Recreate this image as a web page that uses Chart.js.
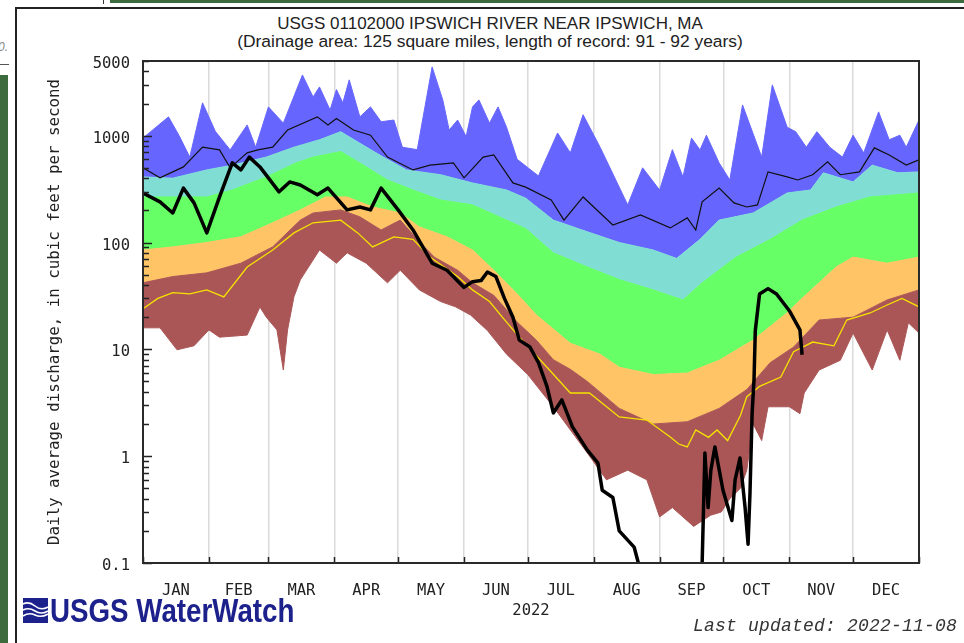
<!DOCTYPE html>
<html>
<head>
<meta charset="utf-8">
<script src="https://cdn.jsdelivr.net/npm/chart.js@4.4.1/dist/chart.umd.min.js"></script>
<style>
	html, body { margin: 0; padding: 0; background: #fff; }
	#page { position: relative; width: 964px; height: 643px; overflow: hidden; }
	.abs { position: absolute; }
	#chart { position: absolute; left: 0; top: 0; }
	.title { left: 0; width: 980px; text-align: center; font-family: "Liberation Sans", Arial, sans-serif; font-size: 17px; line-height: 17px; color: #222; white-space: nowrap; }
	#logo { left: 50px; top: 594px; font-family: "Liberation Sans", Arial, sans-serif; font-weight: bold; font-size: 33px; line-height: 33px; color: #1c218c; transform: scaleX(0.84); transform-origin: 0 0; white-space: nowrap; }
	#updated { left: 693px; top: 617px; font-family: "Liberation Mono", "DejaVu Sans Mono", monospace; font-style: italic; font-size: 18px; line-height: 18px; color: #333; letter-spacing: 0.2px; white-space: nowrap; }
</style>
</head>
<body>
<div id="page">
	<!-- page frame around the graph -->
	<div class="abs" style="left:110px;top:0;width:854px;height:3px;background:#3d6b3d"></div>
	<div class="abs" style="left:103px;top:0;width:1px;height:4px;background:#333"></div>
	<div class="abs" style="left:15px;top:7px;width:949px;height:2px;background:#222"></div>
	<div class="abs" style="left:15px;top:7px;width:2px;height:636px;background:#222"></div>
	<div class="abs" style="left:0;top:75px;width:8px;height:568px;background:#3d6b3d"></div>
	<div class="abs" style="left:0;top:64px;width:9px;height:1px;background:#555"></div>
	<div class="abs" style="left:-2px;top:40px;font:italic 12px 'Liberation Sans',Arial,sans-serif;color:#888">0.</div>

	<div class="abs title" style="top:15px">USGS 01102000 IPSWICH RIVER NEAR IPSWICH, MA</div>
	<div class="abs title" style="top:33px;font-size:17.4px">(Drainage area: 125 square miles, length of record: 91 - 92 years)</div>

	<canvas id="chart" width="964" height="643"></canvas>

	<svg class="abs" style="left:23px;top:598px" width="25" height="25" viewBox="0 0 25 25">
		<rect width="25" height="25" fill="#1c218c"/>
		<path d="M0 6 Q6 3 12 8 T25 9 M0 12 Q6 9 12 13 T25 13 M0 18 Q6 14 12 17 T25 16" stroke="#fff" stroke-width="1.6" fill="none"/>
	</svg>
	<div id="logo" class="abs">USGS WaterWatch</div>
	<div id="updated" class="abs">Last updated: 2022-11-08</div>
</div>

<script>
// x axis: day of year (0 = Jan 1)
const monthStarts = [0, 31, 59, 90, 120, 151, 181, 212, 243, 273, 304, 334, 365];
const monthLabels = ['JAN', 'FEB', 'MAR', 'APR', 'MAY', 'JUN', 'JUL', 'AUG', 'SEP', 'OCT', 'NOV', 'DEC'];
const yearLabel = '2022';

const yTickValues = [0.1, 1, 10, 100, 1000, 5000];
const yTickLabels = ['0.1', '1', '10', '100', '1000', '5000'];

// Daily discharge statistics (cfs)
const maxDays = [0, 5, 12, 17, 22, 28, 34, 41, 49, 53, 59, 66, 75, 80, 83, 88, 91, 94, 97, 102, 107, 112, 118, 122, 129, 136, 141, 144, 148, 152, 155, 158, 163, 167, 171, 176, 186, 195, 201, 207, 215, 228, 235, 243, 249, 254, 258, 262, 265, 271, 276, 282, 291, 296, 303, 307, 312, 317, 323, 329, 334, 339, 346, 351, 356, 359, 365];
const maxFlow = [950, 1150, 1500, 1000, 630, 2030, 1100, 736, 1260, 780, 1860, 1310, 3700, 2300, 2860, 1740, 2700, 2030, 3330, 1500, 1860, 1350, 1400, 780, 740, 4400, 2160, 1130, 1400, 980, 1860, 2160, 1310, 1860, 1200, 600, 420, 1060, 690, 1570, 780, 225, 500, 310, 740, 411, 950, 736, 1010, 556, 385, 1940, 630, 2990, 1200, 1090, 780, 1090, 780, 630, 1010, 690, 1670, 915, 1010, 780, 1400];

const p90Days = [0, 14, 30, 42, 58, 71, 83, 93, 102, 113, 124, 140, 155, 171, 180, 193, 209, 224, 240, 251, 262, 271, 287, 303, 314, 320, 334, 343, 355, 365];
const p90Flow = [411, 400, 478, 530, 630, 780, 915, 1090, 850, 630, 478, 431, 361, 310, 260, 162, 126, 100, 85, 71, 107, 162, 189, 291, 310, 449, 369, 530, 449, 458];

const p75Days = [0, 14, 30, 42, 58, 72, 80, 93, 102, 115, 127, 140, 155, 171, 180, 193, 209, 224, 240, 254, 263, 279, 295, 310, 326, 342, 365];
const p75Flow = [267, 267, 267, 310, 411, 556, 630, 710, 556, 385, 310, 250, 225, 162, 135, 80, 59, 45, 36, 29, 42, 73, 107, 162, 215, 267, 291];

const p25Days = [0, 14, 30, 46, 61, 74, 86, 96, 108, 121, 130, 143, 155, 165, 176, 185, 201, 215, 224, 240, 256, 271, 287, 303, 310, 318, 326, 334, 350, 365];
const p25Flow = [85, 91, 100, 113, 153, 202, 267, 267, 215, 189, 140, 113, 85, 55, 33, 21, 11.4, 9, 6.8, 5.8, 6, 7.9, 12.2, 22, 30, 42, 59, 73, 64, 73];

const p10Days = [0, 14, 30, 46, 61, 74, 80, 93, 102, 112, 121, 129, 137, 148, 155, 165, 176, 185, 193, 201, 209, 224, 240, 256, 271, 284, 295, 306, 318, 334, 350, 365];
const p10Flow = [42, 48, 52, 64, 91, 162, 189, 202, 174, 131, 162, 107, 73, 55, 42, 32, 18, 12.2, 8, 6.5, 5, 2.8, 2.0, 2.1, 2.8, 4.2, 7.5, 10.5, 18.8, 20, 29, 36];

const minDays = [0, 8, 16, 24, 31, 36, 49, 55, 58, 63, 66, 68, 71, 74, 83, 91, 96, 105, 115, 121, 130, 140, 147, 154, 162, 171, 181, 193, 209, 218, 228, 237, 243, 249, 259, 267, 272, 276, 281, 284, 287, 291, 294, 304, 309, 311, 318, 328, 334, 343, 350, 356, 360, 365];
const minFlow = [15.9, 15.9, 9.9, 10.8, 15.2, 13, 13.6, 24.9, 20, 15.2, 6.4, 15.2, 31, 44.7, 85, 64, 80, 64, 41.9, 55, 36, 28, 25, 21, 15, 9, 5.8, 2.9, 1.07, 0.6, 0.74, 0.6, 0.27, 0.33, 0.22, 0.28, 0.3, 0.4, 0.5, 0.74, 2.0, 1.4, 2.9, 2.9, 2.5, 3.9, 6.4, 7.9, 14.2, 6.4, 15.2, 7.9, 17.7, 14.2];

const medianDays = [0, 7, 14, 22, 30, 38, 49, 61, 71, 80, 93, 101, 108, 118, 127, 135, 148, 155, 163, 169, 177, 190, 201, 210, 224, 237, 248, 252, 256, 260, 266, 270, 275, 281, 284, 290, 300, 306, 315, 325, 331, 342, 350, 357, 365];
const medianFlow = [24, 30, 34, 33, 36, 31, 59, 85, 123, 153, 162, 123, 91, 113, 107, 73, 48, 36, 28, 20, 13, 6.8, 3.9, 3.9, 2.33, 2.18, 1.51, 1.3, 1.22, 1.76, 1.5, 1.76, 1.4, 2.4, 3.6, 4.5, 5.5, 9.5, 11.7, 10.8, 18.8, 21.9, 26, 30, 25];

const meanDays = [0, 8, 19, 28, 36, 41, 49, 54, 61, 68, 82, 87, 91, 99, 107, 115, 127, 135, 146, 151, 160, 165, 174, 180, 192, 198, 207, 221, 234, 248, 256, 260, 263, 271, 278, 284, 289, 294, 303, 308, 315, 322, 328, 337, 344, 351, 359, 365];
const meanFlow = [500, 403, 510, 780, 736, 500, 690, 736, 780, 1130, 1500, 1260, 1450, 1130, 1010, 630, 478, 530, 556, 403, 630, 660, 361, 330, 250, 162, 267, 146, 181, 137, 170, 131, 240, 323, 235, 215, 225, 458, 411, 385, 431, 568, 431, 458, 769, 660, 530, 593];

// 2022 daily flow; values under 0.1 run below the axis
const days2022 = [0, 8, 14, 19, 24, 30, 36, 42, 46, 50, 55, 64, 69, 74, 82, 87, 96, 102, 107, 112, 120, 127, 136, 143, 151, 155, 159, 162, 166, 170, 174, 177, 182, 186, 190, 193, 197, 202, 209, 214, 216, 221, 224, 231, 233, 234, 262, 263, 264.3, 265.8, 267.1, 269, 272.8, 277, 278.5, 280.8, 283.2, 284.6, 285.5, 286.5, 287.4, 288, 290, 294, 298, 304, 309, 310];
const flow2022 = [291, 240, 189, 323, 235, 123, 267, 556, 478, 630, 510, 298, 369, 345, 280, 323, 202, 215, 202, 323, 202, 131, 64, 55, 38, 43, 44, 53, 48, 30, 20, 12.2, 10.5, 7.5, 4.5, 2.54, 3.36, 1.88, 1.14, 0.86, 0.48, 0.41, 0.2, 0.141, 0.1, 0.05, 0.05, 0.1, 1.07, 0.33, 0.74, 1.22, 0.48, 0.25, 0.6, 0.96, 0.33, 0.15, 0.45, 2.5, 5.2, 15, 33, 37, 33, 23, 15.2, 8.9];

const colors = {
	blue: '#6666ff',
	cyan: '#80ddd4',
	green: '#66ff66',
	orange: '#fec465',
	brown: '#ab5656',
	yellow: '#f4e400'
};

const monoFont = '"DejaVu Sans Mono", "Liberation Mono", monospace';

function toPoints(days, values) {
	return days.map((d, i) => ({ x: d, y: values[i] }));
}

function band(label, days, values, color, target) {
	return {
		label,
		data: toPoints(days, values),
		borderColor: color,
		borderWidth: 1,
		backgroundColor: color,
		fill: target === null ? false : { target },
		pointRadius: 0,
		tension: 0,
		order: 10
	};
}

const monthMids = monthStarts.slice(0, 12).map((d, i) => (d + monthStarts[i + 1]) / 2);
const xTickValues = monthStarts.concat(monthMids).sort((a, b) => a - b);

// inner tick marks and the plot frame
const frameTicks = {
	id: 'frameTicks',
	afterDatasetsDraw(chart) {
		const { ctx, chartArea: a, scales } = chart;
		ctx.save();
		ctx.strokeStyle = '#222';
		ctx.lineWidth = 1.5;
		ctx.beginPath();
		for (let dec = 0.1; dec < 5000; dec *= 10) {
			for (let k = 1; k <= 9; k++) {
				const v = dec * k;
				if (v > 5000) break;
				const py = Math.round(scales.y.getPixelForValue(v)) + 0.5;
				const len = k === 1 ? 9 : 6;
				ctx.moveTo(a.left, py);
				ctx.lineTo(a.left + len, py);
			}
		}
		monthStarts.forEach((d) => {
			const px = Math.round(scales.x.getPixelForValue(d)) + 0.5;
			ctx.moveTo(px, a.bottom);
			ctx.lineTo(px, a.bottom - 6);
		});
		ctx.stroke();
		ctx.lineWidth = 2;
		ctx.strokeStyle = '#2a2a2a';
		ctx.strokeRect(a.left, a.top, a.right - a.left, a.bottom - a.top);
		ctx.restore();
	}
};

new Chart(document.getElementById('chart'), {
	type: 'line',
	data: {
		datasets: [
			band('Min', minDays, minFlow, colors.brown, null),
			band('10th percentile', p10Days, p10Flow, colors.brown, 0),
			band('25th percentile', p25Days, p25Flow, colors.orange, 1),
			band('75th percentile', p75Days, p75Flow, colors.green, 2),
			band('90th percentile', p90Days, p90Flow, colors.cyan, 3),
			band('Max', maxDays, maxFlow, colors.blue, 4),
			{
				label: 'Median',
				data: toPoints(medianDays, medianFlow),
				borderColor: colors.yellow,
				borderWidth: 1.3,
				pointRadius: 0,
				fill: false,
				tension: 0,
				order: 3
			},
			{
				label: 'Mean',
				data: toPoints(meanDays, meanFlow),
				borderColor: '#111',
				borderWidth: 1.2,
				pointRadius: 0,
				fill: false,
				tension: 0,
				order: 2
			},
			{
				label: '2022',
				data: toPoints(days2022, flow2022),
				borderColor: '#000',
				borderWidth: 3.5,
				borderJoinStyle: 'round',
				pointRadius: 0,
				fill: false,
				tension: 0,
				order: 1
			}
		]
	},
	options: {
		responsive: false,
		animation: false,
		devicePixelRatio: 1,
		layout: {
			padding: { top: 61, right: 45, bottom: 0, left: 0 }
		},
		plugins: {
			legend: { display: false },
			tooltip: { enabled: false },
			title: { display: false }
		},
		scales: {
			x: {
				type: 'linear',
				min: 0,
				max: 365,
				afterBuildTicks(scale) {
					scale.ticks = xTickValues.map((v) => ({ value: v }));
				},
				afterFit(scale) {
					scale.height = 80;
				},
				border: { display: false },
				grid: {
					drawTicks: false,
					lineWidth: 1.5,
					color: (ctx) => (ctx.tick && monthStarts.includes(ctx.tick.value) ? '#dadada' : 'rgba(0,0,0,0)')
				},
				ticks: {
					autoSkip: false,
					maxRotation: 0,
					minRotation: 0,
					padding: 19,
					color: '#222',
					font: { family: monoFont, size: 15.5 },
					callback: (value) => {
						const i = monthMids.indexOf(value);
						return i >= 0 ? monthLabels[i] : '';
					}
				},
				title: {
					display: true,
					text: yearLabel,
					color: '#222',
					font: { family: monoFont, size: 15.5 },
					padding: { top: 0, bottom: 23 }
				}
			},
			y: {
				type: 'logarithmic',
				min: 0.1,
				max: 5000,
				afterBuildTicks(scale) {
					scale.ticks = yTickValues.map((v) => ({ value: v }));
				},
				afterFit(scale) {
					scale.width = 143;
				},
				border: { display: false },
				grid: {
					drawOnChartArea: false,
					drawTicks: false
				},
				ticks: {
					padding: 13,
					labelOffset: 3,
					color: '#222',
					font: { family: monoFont, size: 15.5 },
					callback: (value) => {
						const i = yTickValues.indexOf(value);
						return i >= 0 ? yTickLabels[i] : '';
					}
				},
				title: {
					display: true,
					text: 'Daily average discharge, in cubic feet per second',
					color: '#222',
					font: { family: monoFont, size: 15.8 },
					padding: { top: 45, bottom: 0 }
				}
			}
		}
	},
	plugins: [frameTicks]
});
</script>
</body>
</html>
